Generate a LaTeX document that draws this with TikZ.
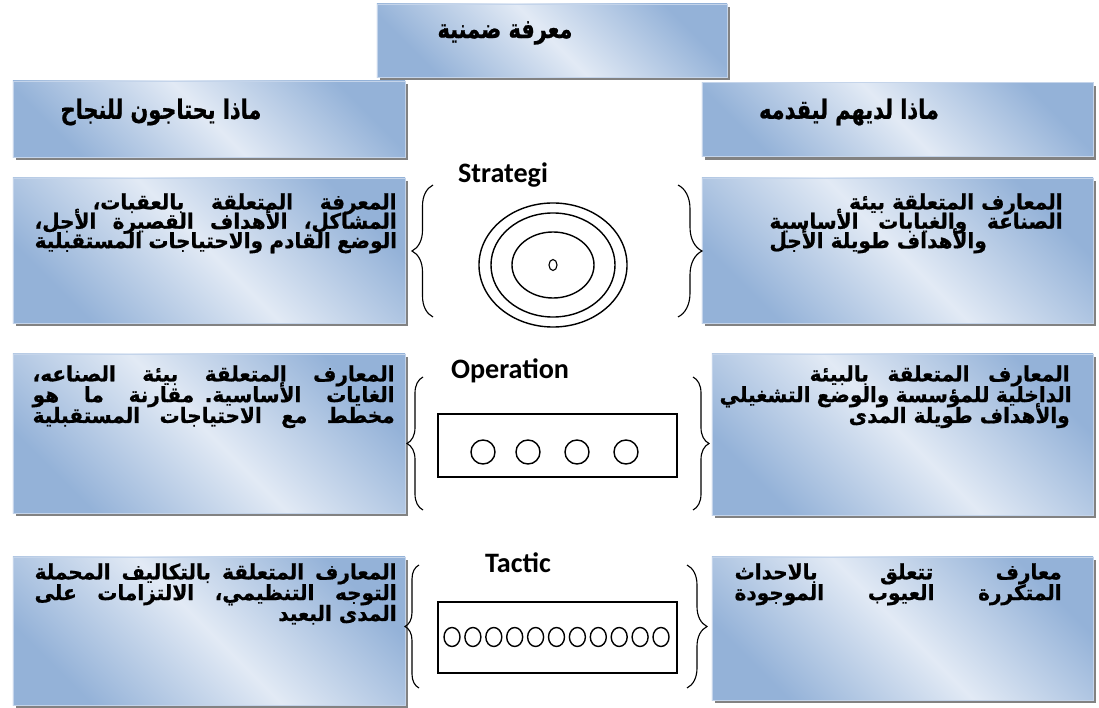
\documentclass[tikz,border=0pt]{standalone}
\usepackage{fontspec}
\newfontfamily\arabicfont[Script=Arabic, FakeStretch=0.95, BoldFeatures={FakeBold=0.7}]{DejaVu Sans}
\newfontfamily\headfont[Script=Arabic, FakeStretch=0.78, BoldFeatures={FakeBold=0.8}]{DejaVu Sans}
\newfontfamily\latinfont{Carlito}
\TeXXeTstate=1
\usetikzlibrary{shapes.geometric, shadows, decorations.pathreplacing}

\definecolor{boxdark}{RGB}{148,178,216}
\definecolor{boxlight}{RGB}{226,234,245}
\definecolor{boxedge}{RGB}{196,212,234}
\definecolor{boxshadow}{RGB}{130,130,130}

% one right-to-left line, natural or stretched to a width
\newcommand{\rl}[1]{\noindent\beginR #1\endR}
\newcommand{\jl}[1]{\noindent\hbox to \linewidth{\spaceskip=.3em plus 1fil\beginR #1\endR}}
\newcommand{\jw}[2]{\noindent\hbox to #1{\spaceskip=.3em plus 1fil\beginR #2\endR}}

\tikzset{
  infobox/.style={rectangle, draw=boxedge, line width=0.6pt, inner sep=0pt,
    top color=boxdark, bottom color=boxdark, middle color=boxlight, shading angle=-45,
    drop shadow={shadow xshift=2.2pt, shadow yshift=-2.2pt, fill=boxshadow, opacity=1}},
  headtext/.style={inner sep=0pt, font=\headfont\bfseries\fontsize{19}{21}\selectfont},
  boxtext/.style={inner sep=0pt, anchor=north east, align=right,
    font=\arabicfont\bfseries\fontsize{15}{#1}\selectfont,
    execute at begin node={\lineskiplimit=-30pt\relax}},
  boxtext/.default=14.8,
  level/.style={inner sep=0pt, anchor=base, font=\latinfont\bfseries\fontsize{20}{22}\selectfont},
  curly/.style={decorate, decoration={brace, amplitude=#1}, line width=0.8pt},
  figline/.style={draw, line width=1pt, inner sep=0pt}
}

\begin{document}
\begin{tikzpicture}[x=0.025cm, y=-0.025cm]
\useasboundingbox (0,0) rectangle (1099,708);

% headers
\node[infobox, minimum width=8.75cm, minimum height=1.825cm] (top) at (552,40.5) {};
\node[headtext] (toptxt) at (505,33) {\rl{معرفة ضمنية}};

\node[infobox, minimum width=9.8cm, minimum height=1.9cm] (lhead) at (209,119) {};
\node[headtext] (lheadtxt) at (161,112) {\rl{ماذا يحتاجون للنجاح}};

\node[infobox, minimum width=9.775cm, minimum height=1.85cm] (rhead) at (897.5,119.5) {};
\node[headtext] (rheadtxt) at (849,112) {\rl{ماذا لديهم ليقدمه}};

% row 1
\node[infobox, minimum width=9.8cm, minimum height=3.625cm] (lb1) at (209,250.5) {};
\node[boxtext=13.8, text width=9.05cm] (lt1) at (397,193) {%
  \jw{7.6cm}{المعرفة المتعلقة بالعقبات،}\\
  \jl{المشاكل، الأهداف القصيرة الأجل،}\\
  \jl{الوضع القادم والاحتياجات المستقبلية}};

\node[infobox, minimum width=9.775cm, minimum height=3.625cm] (rb1) at (897.5,250.5) {};
\node[boxtext=13.8, text width=7.33cm] (rt1) at (1063,193) {%
  \rl{المعارف المتعلقة بيئة}\\
  \jl{الصناعة والغيابات الأساسية}\\
  \hbox to \linewidth{\beginR والأهداف طويلة الأجل\endR\hfill}};

% row 2
\node[infobox, minimum width=9.8cm, minimum height=3.975cm] (lb2) at (209,433.5) {};
\node[boxtext, text width=9.05cm] (lt2) at (395,365) {%
  \jl{المعارف المتعلقة بيئة الصناعه،}\\
  \jl{الغايات الأساسية. مقارنة ما هو}\\
  \jl{مخطط مع الاحتياجات المستقبلية}};

\node[infobox, minimum width=9.525cm, minimum height=4.025cm] (rb2) at (902.5,434.5) {};
\node[boxtext, text width=8.75cm] (rt2) at (1070,365) {%
  \jw{6.5cm}{المعارف المتعلقة بالبيئة}\\
  \jl{الداخلية للمؤسسة والوضع التشغيلي}\\
  \rl{والأهداف طويلة المدى}};

% row 3
\node[infobox, minimum width=9.8cm, minimum height=3.7cm] (lb3) at (209,631) {};
\node[boxtext, text width=9.05cm] (lt3) at (397,563) {%
  \jl{المعارف المتعلقة بالتكاليف المحملة}\\
  \jl{التوجه التنظيمي، الالتزامات على}\\
  \rl{المدى البعيد}};

\node[infobox, minimum width=9.525cm, minimum height=3.575cm] (rb3) at (902.5,628.5) {};
\node[boxtext, text width=8.175cm] (rt3) at (1062,563) {%
  \jl{معارف تتعلق بالاحداث}\\
  \jl{المتكررة العيوب الموجودة}};

% middle column
\node[level] (strategi) at (503,183) {Strategi};
\node[figline, ellipse, minimum width=3.7cm, minimum height=3.1cm] (ring1) at (553,265) {};
\node[figline, ellipse, minimum width=3.1cm, minimum height=2.6cm] (ring2) at (553,265) {};
\node[figline, ellipse, minimum width=2.05cm, minimum height=1.65cm] (ring3) at (553,265) {};
\node[figline, ellipse, line width=0.8pt, minimum width=0.2cm, minimum height=0.275cm] (core) at (553,265) {};

\node[level] (operation) at (510,379) {Operation};
\node[figline, rectangle, minimum width=5.975cm, minimum height=1.575cm] (opbox) at (557.5,445.5) {};
\foreach \x [count=\i] in {483,528,577,626}
  \node[figline, circle, minimum size=0.6cm] (op\i) at (\x,452) {};

\node[level] (tactic) at (518,572) {Tactic};
\node[figline, rectangle, minimum width=5.975cm, minimum height=1.775cm] (tacbox) at (557.5,637.5) {};
\foreach \i in {0,...,10}
  \node[figline, ellipse, minimum width=0.4cm, minimum height=0.475cm] (tac\i) at (452+20.9*\i,637) {};

% braces
\draw[curly=0.525cm] (433,317) -- (433,185);
\draw[curly=0.6cm] (678,185) -- (678,317);
\draw[curly=0.4cm] (423,510) -- (423,377);
\draw[curly=0.4cm] (693,377) -- (693,510);
\draw[curly=0.35cm] (419,688) -- (419,565);
\draw[curly=0.5cm] (687,565) -- (687,688);

\end{tikzpicture}
\end{document}
